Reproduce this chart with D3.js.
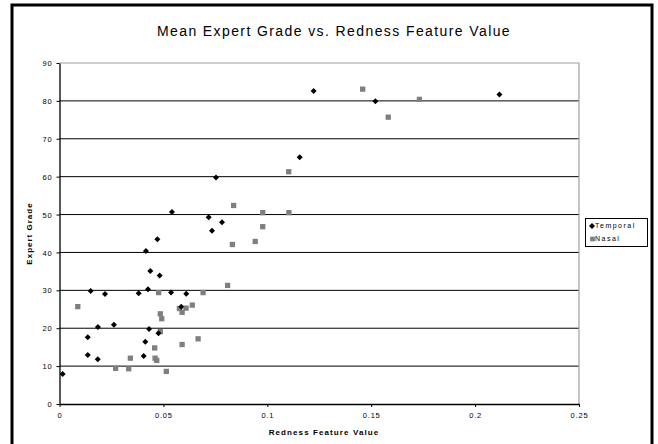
<!DOCTYPE html>
<html>
<head>
<meta charset="utf-8">
<script src="https://cdn.jsdelivr.net/npm/d3@7"></script>
<style>
  body { margin: 0; background: #fff; }
  text { font-family: "Liberation Sans", Arial, sans-serif; }
</style>
</head>
<body>
<div id="chart-area"></div>
<script>
// Temporal series (redness, grade)
var temporalX = [0.0015, 0.0136, 0.0136, 0.0150, 0.0184, 0.0185, 0.0219, 0.0262,
    0.0381, 0.0405, 0.0413, 0.0416, 0.0426, 0.0431, 0.0437, 0.0471, 0.0476, 0.0482,
    0.0537, 0.0541, 0.0586, 0.0610, 0.0718, 0.0734, 0.0753, 0.0782, 0.1156, 0.1223,
    0.1520, 0.2117];
var temporalY = [7.9, 12.9, 17.6, 29.8, 11.8, 20.3, 29.0, 20.9,
    29.2, 12.7, 16.4, 40.4, 30.3, 19.8, 35.1, 43.5, 18.7, 33.9,
    29.4, 50.7, 25.7, 29.1, 49.3, 45.7, 59.8, 48.0, 65.1, 82.6,
    79.9, 81.7];

// Nasal series
var nasalX = [0.0088, 0.0270, 0.0333, 0.0341, 0.0458, 0.0460, 0.0468, 0.0477,
    0.0485, 0.0492, 0.0485, 0.0514, 0.0577, 0.0590, 0.0609, 0.0590, 0.0639, 0.0667,
    0.0691, 0.0809, 0.0832, 0.0838, 0.0942, 0.0978, 0.0978, 0.1103, 0.1104, 0.1459,
    0.1582, 0.1732];
var nasalY = [25.7, 9.4, 9.3, 12.1, 14.8, 12.1, 11.5, 29.4,
    23.8, 22.5, 19.1, 8.6, 25.2, 24.2, 25.3, 15.7, 26.1, 17.2,
    29.4, 31.3, 42.1, 52.4, 42.9, 46.8, 50.5, 61.3, 50.5, 83.1,
    75.7, 80.4];

var xTicks = [0, 0.05, 0.1, 0.15, 0.2, 0.25];
var yTicks = [0, 10, 20, 30, 40, 50, 60, 70, 80, 90];
var seriesNames = ["Temporal", "Nasal"];

var W = 658, H = 444;
var plot = { left: 59.5, right: 579, top: 63, bottom: 404 };

var svg = d3.select("#chart-area").append("svg")
    .attr("width", W)
    .attr("height", H);

// outer chart frame
svg.append("rect")
    .attr("x", 12).attr("y", 5)
    .attr("width", 640).attr("height", 460)
    .attr("fill", "#fff")
    .attr("stroke", "#000")
    .attr("stroke-width", 3);

var x = d3.scaleLinear().domain([0, 0.25]).range([plot.left, plot.right]);
var y = d3.scaleLinear().domain([0, 90]).range([plot.bottom, plot.top]);

// gridlines
svg.append("g")
    .selectAll("line")
    .data(yTicks.filter(function(d) { return d > 0 && d < 90; }))
    .enter().append("line")
    .attr("x1", plot.left).attr("x2", plot.right)
    .attr("y1", function(d) { return y(d); })
    .attr("y2", function(d) { return y(d); })
    .attr("stroke", "#000")
    .attr("stroke-width", 1);

// plot area border (top/right grey)
svg.append("path")
    .attr("d", "M" + plot.left + "," + plot.top + "H" + plot.right + "V" + plot.bottom)
    .attr("fill", "none")
    .attr("stroke", "#a0a0a0")
    .attr("stroke-width", 1.2);

// Axes
var xAxisCall = d3.axisBottom(x)
    .tickValues(xTicks)
    .tickSizeInner(3).tickSizeOuter(0).tickPadding(6)
    .tickFormat(function(d) { return d === 0 ? "0" : String(+d.toFixed(2)); });
var yAxisCall = d3.axisLeft(y)
    .tickValues(yTicks)
    .tickSizeInner(3).tickSizeOuter(0).tickPadding(4);

var xAxis = svg.append("g")
    .attr("transform", "translate(0," + plot.bottom + ")")
    .call(xAxisCall);
var yAxis = svg.append("g")
    .attr("transform", "translate(" + plot.left + ",0)")
    .call(yAxisCall);

[xAxis, yAxis].forEach(function(a) {
    a.select(".domain").attr("stroke", "#000").attr("stroke-width", 1.3);
    a.selectAll(".tick line").attr("stroke", "#000");
    a.selectAll(".tick text")
        .attr("fill", "#000")
        .style("font-family", "'Liberation Sans', Arial, sans-serif")
        .style("font-size", "7.5px")
        .style("letter-spacing", "0.8px");
});
yAxis.selectAll(".tick text").attr("dy", "0.35em");

// Title
svg.append("text")
    .attr("x", 334).attr("y", 36)
    .attr("text-anchor", "middle")
    .style("font-size", "14px")
    .style("letter-spacing", "1.4px")
    .text("Mean Expert Grade vs. Redness Feature Value");

// Axis titles
svg.append("text")
    .attr("x", 324).attr("y", 435)
    .attr("text-anchor", "middle")
    .style("font-size", "8px")
    .style("font-weight", "bold")
    .style("letter-spacing", "1.1px")
    .text("Redness Feature Value");

svg.append("text")
    .attr("transform", "translate(32," + ((plot.top + plot.bottom) / 2) + ") rotate(-90)")
    .attr("text-anchor", "middle")
    .style("font-size", "8px")
    .style("font-weight", "bold")
    .style("letter-spacing", "1px")
    .text("Expert Grade");

// Marker generators
var diamond = d3.symbol().type(d3.symbolSquare).size(18);
var square = d3.symbol().type(d3.symbolSquare).size(28);

svg.append("g")
    .selectAll("path")
    .data(d3.range(nasalX.length))
    .enter().append("path")
    .attr("d", square())
    .attr("transform", function(i) {
        return "translate(" + x(nasalX[i]) + "," + y(nasalY[i]) + ")";
    })
    .attr("fill", "#7f7f7f");

svg.append("g")
    .selectAll("path")
    .data(d3.range(temporalX.length))
    .enter().append("path")
    .attr("d", diamond())
    .attr("transform", function(i) {
        return "translate(" + x(temporalX[i]) + "," + y(temporalY[i]) + ") rotate(45)";
    })
    .attr("fill", "#000");

// Legend
var legend = svg.append("g");
legend.append("rect")
    .attr("x", 585.5).attr("y", 218.5)
    .attr("width", 62).attr("height", 28)
    .attr("fill", "#fff")
    .attr("stroke", "#000")
    .attr("stroke-width", 1);

legend.append("path")
    .attr("d", diamond())
    .attr("transform", "translate(592,226) rotate(45)")
    .attr("fill", "#000");
legend.append("path")
    .attr("d", d3.symbol().type(d3.symbolSquare).size(22)())
    .attr("transform", "translate(592.5,239)")
    .attr("fill", "#7f7f7f");

legend.selectAll("text")
    .data(seriesNames)
    .enter().append("text")
    .attr("x", 595)
    .attr("y", function(d, i) { return 226 + i * 13; })
    .attr("dy", "0.35em")
    .style("font-size", "7px")
    .style("letter-spacing", "1.5px")
    .text(function(d) { return d; });
</script>
</body>
</html>
